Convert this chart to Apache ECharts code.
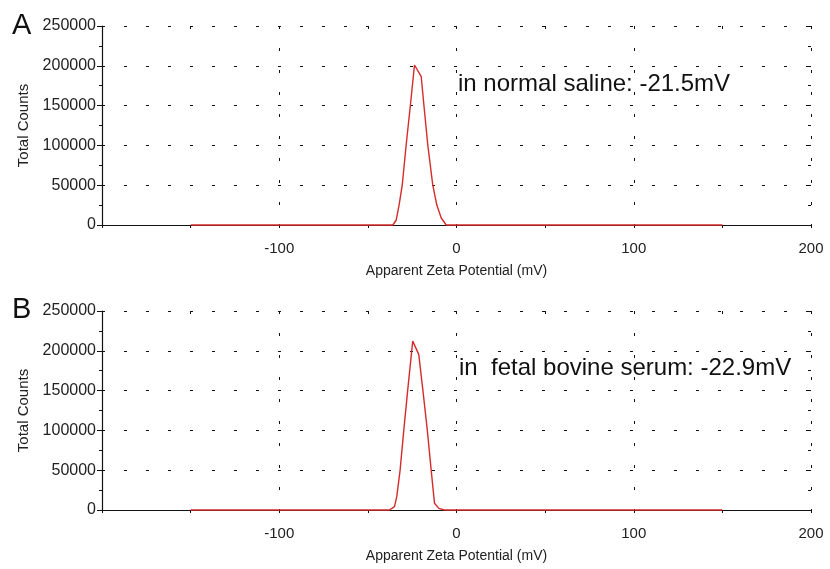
<!DOCTYPE html>
<html>
<head>
<meta charset="utf-8">
<script src="https://cdn.jsdelivr.net/npm/echarts@6/dist/echarts.min.js"></script>
<style>
  html, body { margin: 0; padding: 0; background: #fff; }
  #chart { width: 830px; height: 569px; }
</style>
</head>
<body>
<div id="chart"></div>
<script>
// zeta distribution, panel A (normal saline)
const zetaA = [-150, -35.9, -34.0, -32.4, -30.6, -28.4, -26.0, -23.7, -19.9, -18.4, -16.2, -13.4, -11.1, -8.6, -5.8, 150];
const countsA = [0, 0, 6300, 25000, 50300, 100500, 150700, 201000, 186300, 150700, 100500, 50300, 25100, 8800, 0, 0];
// panel B (fetal bovine serum)
const zetaB = [-150, -37.8, -35.0, -33.7, -31.8, -29.7, -27.5, -24.7, -21.3, -19.0, -16.5, -14.3, -12.4, -10.0, -6.8, 150];
const countsB = [0, 0, 4200, 16800, 50400, 100900, 151300, 212200, 195500, 151300, 100900, 50400, 8400, 2100, 0, 0];

const panelLetters = ['A', 'B'];
const panelNotes = ['in normal saline: -21.5mV', 'in  fetal bovine serum: -22.9mV'];
const xLabel = 'Apparent Zeta Potential (mV)';
const yLabel = 'Total Counts';

const chart = echarts.init(document.getElementById('chart'));

const font = 'Liberation Sans, Arial, sans-serif';
const grids = [
  { left: 102, top: 26, width: 709, height: 199 },
  { left: 102, top: 311, width: 709, height: 199 }
];

const dotted = { color: '#111', width: 1, type: [3, 19] };

const xAxes = [];
const yAxes = [];
grids.forEach((g, i) => {
  // main axes
  xAxes.push({
    type: 'value', gridIndex: i, min: -200, max: 200, interval: 100,
    axisLine: { onZero: false, lineStyle: { color: '#111', width: 1.2 } },
    axisTick: { length: 3, lineStyle: { color: '#111' } },
    minorTick: { show: true, splitNumber: 2, length: 3, lineStyle: { color: '#111' } },
    axisLabel: {
      color: '#222', fontFamily: font, fontSize: 15, margin: 16,
      formatter: v => (v === -200 ? '' : String(v))
    },
    splitLine: { show: true, lineStyle: dotted },
    name: xLabel, nameLocation: 'middle', nameGap: 39,
    nameTextStyle: { color: '#222', fontFamily: font, fontSize: 14 }
  });
  // overlay so ticks cross the axis line
  xAxes.push({
    type: 'value', gridIndex: i, min: -200, max: 200, interval: 50,
    axisLine: { show: false, onZero: false },
    axisTick: { inside: true, length: 3, lineStyle: { color: '#111' } },
    axisLabel: { show: false }, splitLine: { show: false }
  });
  yAxes.push({
    type: 'value', gridIndex: i, min: 0, max: 250000, interval: 50000,
    axisLine: { show: true, onZero: false, lineStyle: { color: '#111', width: 1.2 } },
    axisTick: { show: true, length: 5, lineStyle: { color: '#111' } },
    minorTick: { show: true, splitNumber: 2, length: 3, lineStyle: { color: '#111' } },
    axisLabel: { color: '#222', fontFamily: font, fontSize: 16, margin: 6, formatter: v => String(v) },
    splitLine: { show: true, lineStyle: dotted },
    name: yLabel, nameLocation: 'middle', nameGap: 70,
    nameTextStyle: { color: '#222', fontFamily: font, fontSize: 15 }
  });
  yAxes.push({
    type: 'value', gridIndex: i, min: 0, max: 250000, interval: 25000,
    axisLine: { show: false, onZero: false },
    axisTick: { show: true, inside: true, length: 3, lineStyle: { color: '#111' } },
    axisLabel: { show: false }, splitLine: { show: false }
  });
});

function pairs(xs, ys) {
  return xs.map((x, k) => [x, ys[k]]);
}

const lineStyle = { color: '#d52b2b', width: 1.4 };

const option = {
  backgroundColor: '#fff',
  animation: false,
  grid: grids,
  xAxis: xAxes,
  yAxis: yAxes,
  series: [
    {
      type: 'line', xAxisIndex: 0, yAxisIndex: 0, data: pairs(zetaA, countsA),
      showSymbol: false, clip: false, lineStyle: lineStyle, z: 5
    },
    {
      type: 'line', xAxisIndex: 2, yAxisIndex: 2, data: pairs(zetaB, countsB),
      showSymbol: false, clip: false, lineStyle: lineStyle, z: 5
    }
  ],
  graphic: [
    { type: 'text', left: 12, top: 11, style: { text: panelLetters[0], fontFamily: font, fontSize: 29, fill: '#111' } },
    { type: 'text', left: 12, top: 295, style: { text: panelLetters[1], fontFamily: font, fontSize: 29, fill: '#111' } },
    { type: 'text', left: 458, top: 72, z: 10, style: { text: panelNotes[0], fontFamily: font, fontSize: 24, fill: '#111' } },
    { type: 'text', left: 459, top: 356, z: 10, style: { text: panelNotes[1], fontFamily: font, fontSize: 24, fill: '#111' } }
  ]
};

chart.setOption(option);
</script>
</body>
</html>
